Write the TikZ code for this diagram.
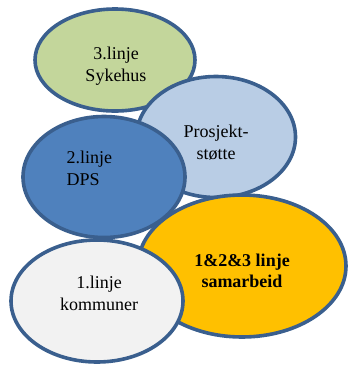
\documentclass[tikz,border=0pt]{standalone}
\usepackage{fontspec}
\setmainfont{Liberation Serif}
\usetikzlibrary{shapes.geometric,positioning}
\begin{document}
\begin{tikzpicture}[
  x=1pt, y=-1pt,
  blob/.style={ellipse, draw=edgeblue, line width=3.6pt, inner sep=0pt},
  txt/.style={align=center, font=\fontsize{18}{22}\selectfont}
]
\definecolor{edgeblue}{HTML}{3A5F8E}
\definecolor{greenfill}{HTML}{C3D69B}
\definecolor{paleblue}{HTML}{B9CDE5}
\definecolor{dpsblue}{HTML}{4F81BD}
\definecolor{gold}{HTML}{FFC000}
\definecolor{lightgrey}{HTML}{F2F2F2}
\useasboundingbox (0,0) rectangle (349,368);
% ellipses, back to front
\node[blob, fill=greenfill, minimum width=160pt, minimum height=102pt] (sykehus) at (115,60) {};
\node[blob, fill=paleblue, minimum width=159pt, minimum height=121pt] (prosjekt) at (216,137) {};
\node[blob, fill=dpsblue, minimum width=162pt, minimum height=121pt] (dps) at (104,177) {};
\node[blob, fill=gold, minimum width=208pt, minimum height=142pt] (samarbeid) at (242,266) {};
\node[blob, fill=lightgrey, minimum width=172pt, minimum height=122pt] (kommuner) at (97,301) {};
% texts
\node[txt] (sykehustext) at ([xshift=1pt,yshift=-6pt]sykehus.center) {3.linje\\Sykehus};
\node[txt] (prosjekttext) at ([yshift=-6pt]prosjekt.center) {Prosjekt-\\støtte};
\node[txt, align=left, anchor=west] (dpstext) at (63,168) {2.linje\\DPS};
\node[txt, font=\fontsize{18}{21}\selectfont\bfseries] (samarbeidtext) at ([yshift=-5pt]samarbeid.center) {1\&2\&3 linje\\samarbeid};
\node[txt] (kommunertext) at ([xshift=2pt,yshift=8pt]kommuner.center) {1.linje\\kommuner};
\end{tikzpicture}
\end{document}
